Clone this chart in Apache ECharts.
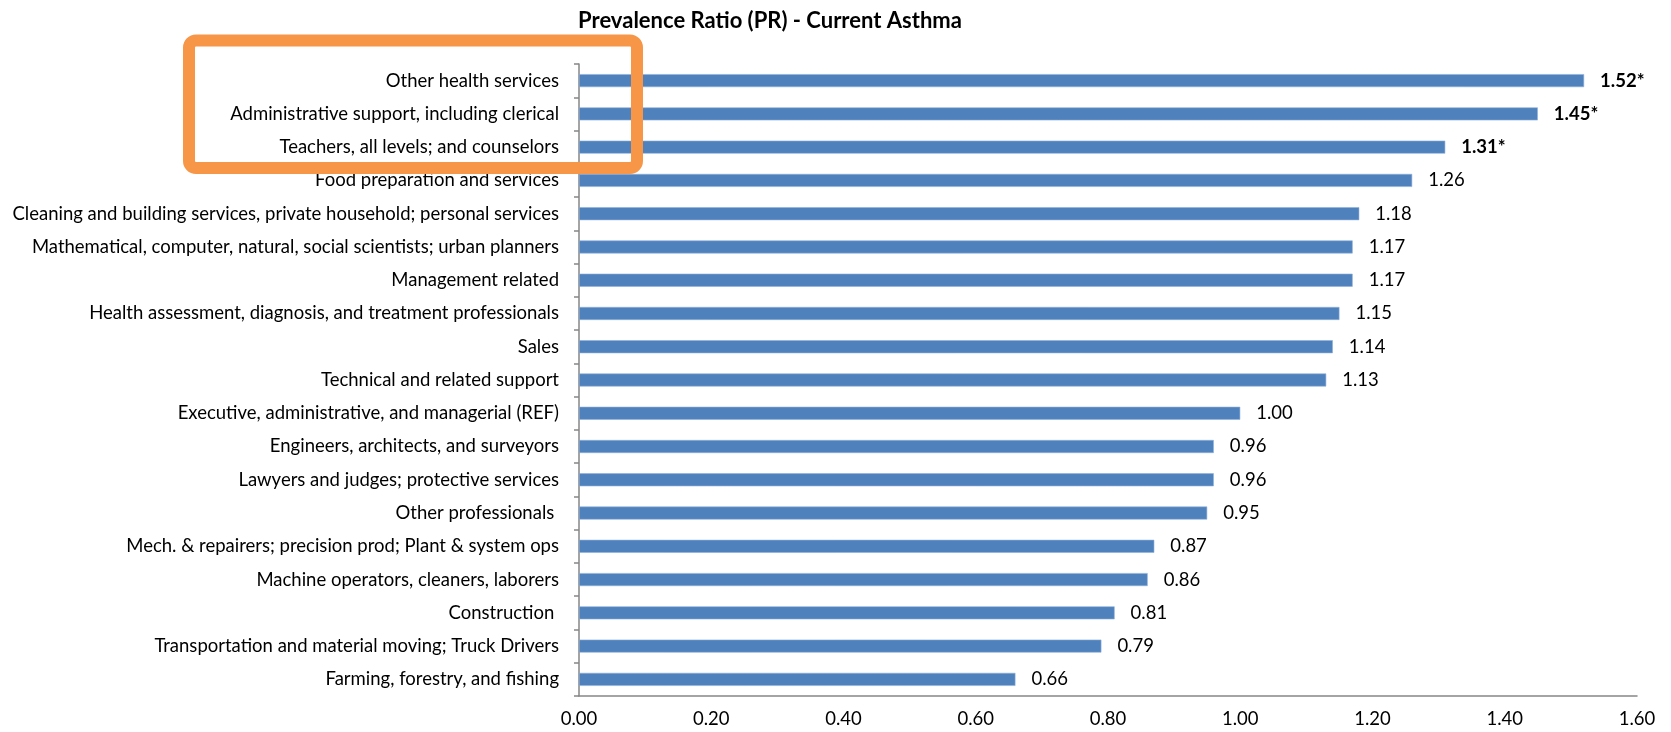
<!DOCTYPE html>
<html>
<head>
<meta charset="utf-8">
<title>Prevalence Ratio (PR) - Current Asthma</title>
<script src="https://cdn.jsdelivr.net/npm/echarts@6/dist/echarts.min.js"></script>
<style>
  html, body { margin: 0; padding: 0; background: #ffffff; }
  #chart { width: 1671px; height: 732px; }
</style>
</head>
<body>
<div id="chart"></div>
<script>
// Occupation groups, listed top to bottom
const categories = [
  'Other health services',
  'Administrative support, including clerical',
  'Teachers, all levels; and counselors',
  'Food preparation and services',
  'Cleaning and building services, private household; personal services',
  'Mathematical, computer, natural, social scientists; urban planners',
  'Management related',
  'Health assessment, diagnosis, and treatment professionals',
  'Sales',
  'Technical and related support',
  'Executive, administrative, and managerial (REF)',
  'Engineers, architects, and surveyors',
  'Lawyers and judges; protective services',
  'Other professionals ',
  'Mech. & repairers; precision prod; Plant & system ops',
  'Machine operators, cleaners, laborers',
  'Construction ',
  'Transportation and material moving; Truck Drivers',
  'Farming, forestry, and fishing'
];

// Prevalence ratio per group
const prValues = [1.52, 1.45, 1.31, 1.26, 1.18, 1.17, 1.17, 1.15, 1.14, 1.13,
                  1.00, 0.96, 0.96, 0.95, 0.87, 0.86, 0.81, 0.79, 0.66];

// Statistically significant ratios (flagged with an asterisk)
const significant = [true, true, true, false, false, false, false, false, false, false,
                     false, false, false, false, false, false, false, false, false];

// Value axis tick labels
const xTicks = ['0.00', '0.20', '0.40', '0.60', '0.80', '1.00', '1.20', '1.40', '1.60'];

const FONT = 'Lato, "Open Sans", sans-serif';
const TEXT_SIZE = 18.5;
const AXIS_GREY = '#868686';

const chart = echarts.init(document.getElementById('chart'), null, { renderer: 'canvas' });

const seriesData = prValues.map((v, i) => ({
  value: v,
  label: { fontWeight: significant[i] ? 'bold' : 'normal' }
}));

chart.setOption({
  animation: false,
  backgroundColor: '#ffffff',
  title: {
    text: 'Prevalence Ratio (PR) - Current Asthma',
    left: 765,
    top: 5,
    textAlign: 'center',
    textStyle: { fontFamily: FONT, fontWeight: 'bold', fontSize: 22, color: '#000000' }
  },
  grid: { left: 579, right: 34, top: 64, bottom: 36, containLabel: false },
  xAxis: {
    type: 'value',
    min: 0,
    max: 1.6,
    interval: 0.2,
    axisLine: { show: true, lineStyle: { color: AXIS_GREY, width: 1.5 } },
    axisTick: { show: false },
    splitLine: { show: false },
    axisLabel: {
      margin: 14,
      fontFamily: FONT,
      fontSize: TEXT_SIZE,
      color: '#000000',
      formatter: (v) => xTicks[Math.round(v / 0.2)]
    }
  },
  yAxis: {
    type: 'category',
    data: categories,
    inverse: true,
    axisLine: { show: true, lineStyle: { color: AXIS_GREY, width: 1.5 } },
    axisTick: { show: true, length: 5, lineStyle: { color: AXIS_GREY, width: 1.5 } },
    splitLine: { show: false },
    axisLabel: {
      margin: 20,
      fontFamily: FONT,
      fontSize: TEXT_SIZE,
      color: '#000000'
    }
  },
  series: [{
    type: 'bar',
    data: seriesData,
    barWidth: 13,
    itemStyle: { color: '#4F81BD', borderColor: '#8EB0DA', borderWidth: 0.6 },
    label: {
      show: true,
      position: 'right',
      distance: 16,
      fontFamily: FONT,
      fontSize: TEXT_SIZE,
      color: '#000000',
      formatter: (p) => p.value.toFixed(2) + (significant[p.dataIndex] ? '*' : '')
    }
  }],
  graphic: [{
    type: 'rect',
    z: 100,
    shape: { x: 189, y: 40.5, width: 448, height: 127.5, r: 7 },
    style: { fill: 'none', stroke: '#F79646', lineWidth: 12 }
  }]
});
</script>
</body>
</html>
